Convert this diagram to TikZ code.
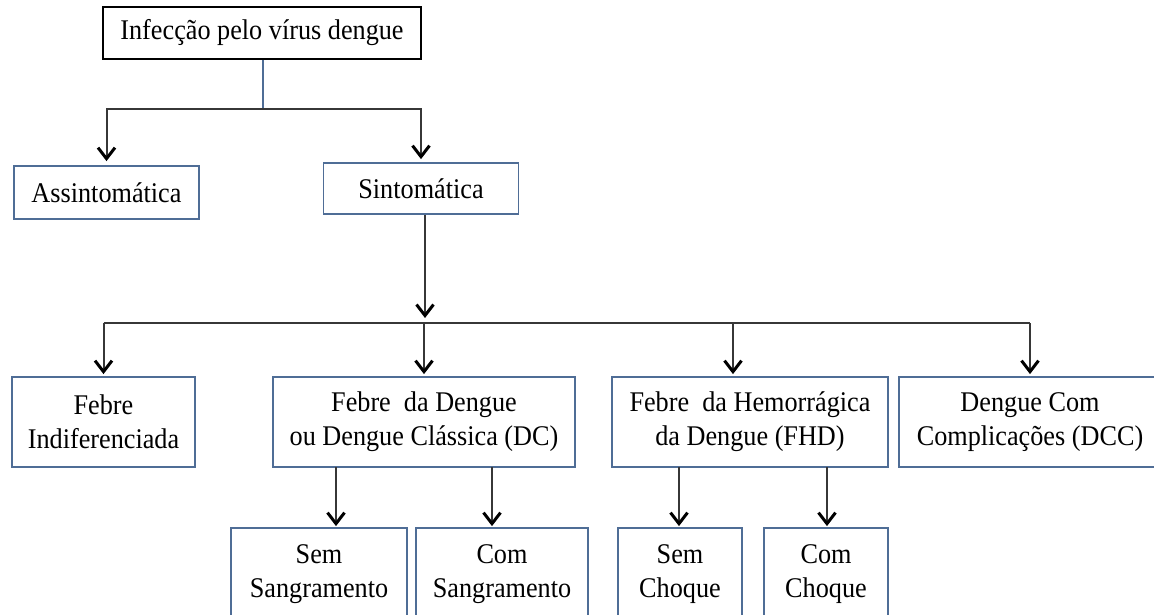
\documentclass[tikz,border=0pt]{standalone}
\usepackage{fontspec}
\setmainfont{Liberation Serif}
\usetikzlibrary{arrows.meta}

\definecolor{boxblue}{RGB}{79,109,150}
\definecolor{linegray}{RGB}{55,55,55}

\tikzset{
	box/.style={draw=boxblue, line width=1.8pt, align=center, inner sep=0pt,
		font=\addfontfeature{FakeStretch=0.92}\fontsize{28.5}{34}\selectfont},
	link/.style={draw=linegray, line width=2pt},
	arr/.style={link, -{Straight Barb[length=11pt,width=17pt,line width=3pt,color=black]}, shorten >=2pt},
}

\begin{document}
\begin{tikzpicture}[x=1pt,y=-1pt]
	\useasboundingbox (0,0) rectangle (1154,615);
	% boxes
	\node[box, draw=black, line width=2pt, minimum width=318pt, minimum height=52pt] (infec) at (262,33) {Infecção pelo vírus dengue};
	\node[box, minimum width=185pt, minimum height=53pt] (assint) at (106.5,192.5) {Assintomática};
	\node[box, minimum width=195pt, minimum height=51pt] (sint) at (421,188.5) {Sintomática};
	\node[box, minimum width=183pt, minimum height=90pt] (indif) at (103.5,422) {Febre\\Indiferenciada};
	\node[box, minimum width=302pt, minimum height=90pt] (dc) at (424,422) {Febre\ \ da Dengue\\ou Dengue Clássica (DC)};
	\node[box, minimum width=276pt, minimum height=90pt] (fhd) at (750,422) {Febre\ \ da Hemorrágica\\da Dengue (FHD)};
	\node[box, minimum width=262pt, minimum height=90pt] (dcc) at (1030,422) {Dengue Com\\Complicações (DCC)};
	\node[box, minimum width=176pt, minimum height=92pt] (semsang) at (319,574) {Sem\\Sangramento};
	\node[box, minimum width=172pt, minimum height=92pt] (comsang) at (502,574) {Com\\Sangramento};
	\node[box, minimum width=124pt, minimum height=92pt] (semchoq) at (680,574) {Sem\\Choque};
	\node[box, minimum width=124pt, minimum height=92pt] (comchoq) at (826,574) {Com\\Choque};
	% first split
	\coordinate (j1) at (263,109);
	\draw[link, draw=boxblue] (infec.south -| j1) -- (j1);
	\draw[arr, shorten >=4pt] (j1) -| (assint);
	\draw[arr, shorten >=3pt] (j1) -| (sint);
	% second split
	\coordinate (j2) at (425,323);
	\coordinate (j3) at (733,323);
	\draw[arr, shorten >=5pt] (sint.south -| j2) -- (j2);
	\draw[link] (indif.north |- j2) -- (dcc.north |- j2);
	\foreach \n in {indif,dc,dcc} \draw[arr] (\n.north |- j2) -- (\n.north);
	\draw[arr] (j3) -- (j3 |- fhd.north);
	% last level
	\coordinate (dcL) at (336,467);
	\coordinate (dcR) at (492,467);
	\coordinate (fhL) at (679,467);
	\coordinate (fhR) at (827,467);
	\foreach \c/\n in {dcL/semsang,dcR/comsang,fhL/semchoq,fhR/comchoq}
		\draw[arr, shorten >=1pt] (\c) -- (\c |- \n.north);
\end{tikzpicture}
\end{document}
